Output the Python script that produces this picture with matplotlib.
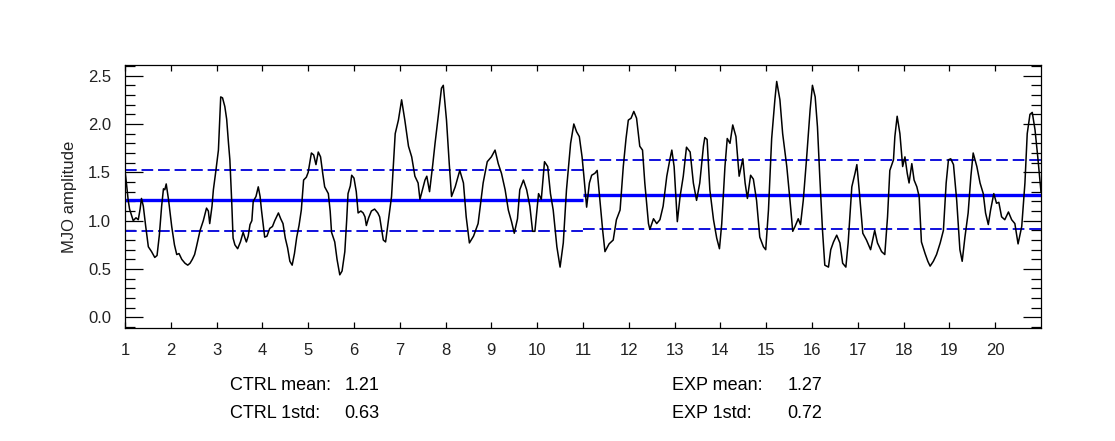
import numpy as np
import matplotlib
matplotlib.use("Agg")
import matplotlib.pyplot as plt
from matplotlib.ticker import MultipleLocator

plt.rcParams['font.family'] = ['Liberation Sans', 'DejaVu Sans']

# MJO amplitude time series
t = [1.00, 1.04, 1.07, 1.10, 1.14, 1.18, 1.24, 1.29, 1.33, 1.36, 1.40, 1.45, 1.51, 1.58, 1.65, 1.70,
     1.75, 1.80, 1.84, 1.87, 1.90, 1.95, 2.02, 2.08, 2.13, 2.18, 2.24, 2.31, 2.37, 2.42, 2.47, 2.52,
     2.56, 2.64, 2.71, 2.78, 2.82, 2.85, 2.90, 2.93, 2.98, 3.04, 3.09, 3.13, 3.18, 3.22, 3.26, 3.29,
     3.33, 3.36, 3.40, 3.46, 3.52, 3.58, 3.62, 3.65, 3.69, 3.73, 3.77, 3.80, 3.86, 3.91, 3.95, 3.98,
     4.02, 4.05, 4.10, 4.16, 4.22, 4.27, 4.32, 4.35, 4.40, 4.45, 4.50, 4.55, 4.60, 4.65, 4.70, 4.75,
     4.80, 4.85, 4.90, 4.96, 5.00, 5.07, 5.12, 5.17, 5.22, 5.27, 5.32, 5.36, 5.44, 5.48, 5.51, 5.58,
     5.63, 5.69, 5.74, 5.80, 5.84, 5.87, 5.92, 5.95, 6.00, 6.05, 6.09, 6.15, 6.20, 6.24, 6.27, 6.32,
     6.38, 6.45, 6.52, 6.56, 6.64, 6.69, 6.75, 6.82, 6.90, 6.97, 7.04, 7.11, 7.19, 7.26, 7.33, 7.40,
     7.44, 7.51, 7.55, 7.59, 7.65, 7.72, 7.77, 7.84, 7.91, 7.95, 8.02, 8.08, 8.13, 8.21, 8.31, 8.39,
     8.45, 8.52, 8.61, 8.71, 8.82, 8.91, 9.00, 9.08, 9.15, 9.22, 9.30, 9.37, 9.44, 9.50, 9.57, 9.62,
     9.70, 9.77, 9.84, 9.90, 9.95, 10.03, 10.09, 10.16, 10.23, 10.29, 10.35, 10.43, 10.50, 10.57,
     10.64, 10.73, 10.80, 10.86, 10.92, 10.98, 11.02, 11.08, 11.14, 11.19, 11.26, 11.31, 11.37,
     11.43, 11.48, 11.57, 11.66, 11.73, 11.81, 11.88, 11.94, 11.99, 12.05, 12.11, 12.17, 12.24,
     12.30, 12.35, 12.43, 12.46, 12.54, 12.61, 12.68, 12.75, 12.83, 12.90, 12.94, 12.99, 13.06,
     13.12, 13.19, 13.26, 13.34, 13.41, 13.48, 13.55, 13.63, 13.66, 13.71, 13.77, 13.85, 13.92,
     13.98, 14.03, 14.10, 14.15, 14.21, 14.27, 14.34, 14.41, 14.49, 14.54, 14.59, 14.66, 14.72,
     14.79, 14.86, 14.94, 14.99, 15.05, 15.12, 15.19, 15.23, 15.30, 15.36, 15.45, 15.52, 15.58,
     15.63, 15.70, 15.75, 15.81, 15.88, 15.96, 16.01, 16.07, 16.12, 16.17, 16.23, 16.28, 16.36,
     16.41, 16.47, 16.54, 16.61, 16.67, 16.74, 16.79, 16.87, 16.94, 16.98, 17.03, 17.11, 17.19,
     17.28, 17.37, 17.43, 17.52, 17.59, 17.65, 17.70, 17.78, 17.81, 17.86, 17.92, 17.98, 18.03,
     18.08, 18.12, 18.18, 18.23, 18.29, 18.34, 18.39, 18.47, 18.53, 18.58, 18.65, 18.72, 18.80,
     18.87, 18.93, 18.98, 19.03, 19.09, 19.16, 19.23, 19.28, 19.34, 19.41, 19.47, 19.52, 19.60,
     19.67, 19.74, 19.79, 19.85, 19.90, 19.97, 20.03, 20.08, 20.14, 20.21, 20.29, 20.36, 20.43,
     20.50, 20.58, 20.65, 20.70, 20.76, 20.81, 20.87, 20.93, 21.00]
amp = [1.52, 1.35, 1.21, 1.12, 1.06, 1.00, 1.03, 1.01, 1.12, 1.23, 1.15, 0.95, 0.73, 0.68, 0.62, 0.64,
       0.85, 1.15, 1.33, 1.32, 1.38, 1.22, 0.94, 0.75, 0.65, 0.66, 0.60, 0.56, 0.54, 0.56, 0.60, 0.65,
       0.73, 0.90, 1.00, 1.13, 1.10, 0.97, 1.15, 1.32, 1.50, 1.73, 2.28, 2.27, 2.18, 2.05, 1.80, 1.63,
       1.20, 0.82, 0.75, 0.71, 0.78, 0.88, 0.82, 0.78, 0.84, 0.96, 1.00, 1.20, 1.25, 1.35, 1.25, 1.11,
       0.95, 0.83, 0.84, 0.92, 0.94, 1.00, 1.05, 1.08, 1.02, 0.97, 0.82, 0.72, 0.58, 0.54, 0.66, 0.83,
       0.95, 1.11, 1.42, 1.45, 1.50, 1.70, 1.68, 1.58, 1.71, 1.66, 1.48, 1.35, 1.28, 1.10, 0.88, 0.78,
       0.60, 0.44, 0.48, 0.68, 1.00, 1.28, 1.36, 1.47, 1.44, 1.30, 1.08, 1.10, 1.08, 1.04, 0.95, 1.03,
       1.10, 1.12, 1.08, 1.04, 0.80, 0.78, 1.00, 1.25, 1.90, 2.04, 2.25, 2.04, 1.77, 1.66, 1.46, 1.39,
       1.22, 1.35, 1.42, 1.46, 1.30, 1.58, 1.80, 2.08, 2.37, 2.40, 2.04, 1.59, 1.25, 1.35, 1.52, 1.39,
       1.04, 0.77, 0.84, 0.97, 1.39, 1.61, 1.66, 1.73, 1.59, 1.49, 1.32, 1.11, 0.99, 0.87, 1.02, 1.32,
       1.42, 1.32, 1.15, 0.89, 0.89, 1.28, 1.22, 1.61, 1.56, 1.28, 1.11, 0.73, 0.52, 0.77,
       1.32, 1.80, 2.00, 1.92, 1.87, 1.66, 1.46, 1.14, 1.39, 1.47, 1.49, 1.52, 1.21,
       0.90, 0.68, 0.76, 0.80, 1.01, 1.11, 1.56, 1.85, 2.04, 2.06, 2.13, 2.06, 1.77,
       1.73, 1.39, 0.97, 0.91, 1.02, 0.97, 1.01, 1.15, 1.46, 1.64, 1.73, 1.56, 0.99,
       1.25, 1.46, 1.76, 1.71, 1.39, 1.21, 1.39, 1.77, 1.86, 1.84, 1.32, 1.01, 0.82,
       0.71, 0.97, 1.56, 1.85, 1.80, 1.99, 1.87, 1.46, 1.64, 1.39, 1.23, 1.47, 1.43,
       1.21, 0.83, 0.73, 0.70, 1.11, 1.85, 2.25, 2.44, 2.25, 1.90, 1.56, 1.21, 0.89,
       0.94, 1.02, 0.96, 1.21, 1.63, 2.15, 2.40, 2.28, 1.97, 1.46, 0.90, 0.54, 0.52,
       0.70, 0.78, 0.85, 0.77, 0.56, 0.52, 0.77, 1.35, 1.49, 1.58, 1.32, 0.87, 0.80,
       0.70, 0.90, 0.77, 0.68, 0.65, 1.04, 1.52, 1.63, 1.87, 2.08, 1.90, 1.56, 1.66,
       1.49, 1.39, 1.59, 1.42, 1.35, 1.25, 0.78, 0.66, 0.58, 0.53, 0.58, 0.65, 0.77,
       0.90, 1.39, 1.63, 1.64, 1.58, 1.21, 0.70, 0.58, 0.83, 1.08, 1.46, 1.70, 1.56,
       1.39, 1.28, 1.08, 0.96, 1.11, 1.28, 1.18, 1.19, 1.04, 1.01, 1.09, 1.01, 0.97,
       0.76, 0.94, 1.39, 1.90, 2.10, 2.12, 1.94, 1.66, 1.30]

# statistics for the two runs
runs = ['CTRL', 'EXP']
run_start = [1, 11]
run_end = [11, 21]
run_mean = [1.21, 1.27]
run_std = [0.63, 0.72]

fig = plt.figure(figsize=(11.15, 4.41), dpi=100)
ax = fig.add_axes([0.1121, 0.2562, 0.8215, 0.5964])

ax.plot(t, amp, color='black', lw=1.1, zorder=3)

for i in range(len(runs)):
    ax.hlines(run_mean[i], run_start[i], run_end[i], color='#0000ff', lw=2.4, zorder=2)
    for s in (-0.5, 0.5):
        ax.hlines(run_mean[i] + s * run_std[i], run_start[i], run_end[i], color='#1010dd',
                  lw=1.4, linestyles=(0, (6, 2.5)), zorder=2)

ax.set_xlim(1, 21)
ax.set_ylim(-0.11, 2.61)
ax.set_xticks(range(1, 21))
ax.yaxis.set_major_locator(MultipleLocator(0.5))
ax.yaxis.set_minor_locator(MultipleLocator(0.1))
ax.yaxis.set_major_formatter(plt.FormatStrFormatter('%.1f'))
ax.tick_params(axis='x', direction='in', top=True, length=4.5, width=0.9, labelsize=12, pad=11,
               labelcolor='#222222')
ax.tick_params(axis='y', which='major', direction='in', right=True, length=13, width=0.9,
               labelsize=12, pad=10, labelcolor='#222222')
ax.tick_params(axis='y', which='minor', direction='in', right=True, length=7, width=0.9)
for sp in ax.spines.values():
    sp.set_linewidth(0.9)
ax.set_ylabel('MJO amplitude', fontsize=12, labelpad=8, color='#222222')

# summary text under the plot
for i, x0 in enumerate([0.206, 0.603]):
    fig.text(x0, 1 - 386 / 441, runs[i] + ' mean:', fontsize=13, va='center')
    fig.text(x0 + 0.103, 1 - 386 / 441, '%.2f' % run_mean[i], fontsize=13, va='center')
    fig.text(x0, 1 - 413 / 441, runs[i] + ' 1std:', fontsize=13, va='center')
    fig.text(x0 + 0.103, 1 - 413 / 441, '%.2f' % run_std[i], fontsize=13, va='center')

fig.savefig('out.png', dpi=100)
